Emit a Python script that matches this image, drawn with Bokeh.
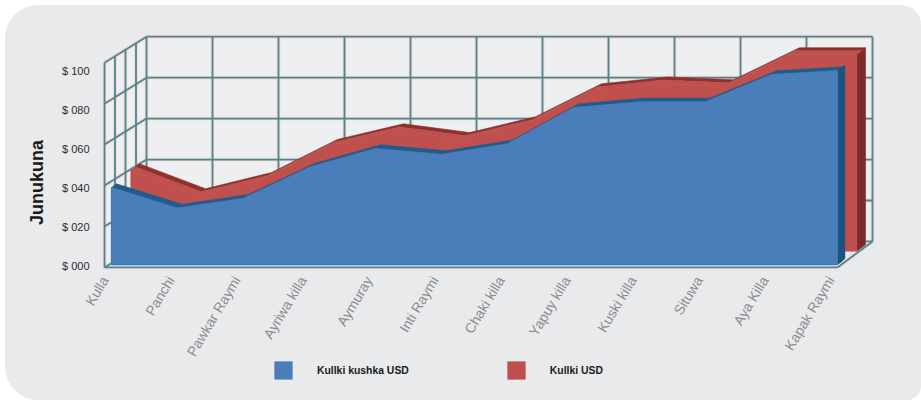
import math

from bokeh.embed import file_html
from bokeh.models import FixedTicker, Label, Legend, LegendItem, Range1d
from bokeh.plotting import figure
from bokeh.resources import INLINE

months = ["Kulla", "Panchi", "Pawkar Raymi", "Ayriwa killa", "Aymuray", "Inti Raymi",
          "Chaki killa", "Yapuy killa", "Kuski killa", "Situwa", "Aya Killa", "Kapak Raymi"]
kushka = [40, 29.5, 34.5, 50.5, 60, 57, 62.5, 81, 84, 84, 98, 100]
kullki = [41.5, 28.7, 37, 54, 62, 57.5, 65.6, 82.5, 86, 84.6, 101, 101]
y_ticks = [0, 20, 40, 60, 80, 100]
y_labels = ["$ 000", "$ 020", "$ 040", "$ 060", "$ 080", "$ 100"]
grid_levels = [-1, 20, 41, 62, 83, 104]

BLUE, BLUE_DARK, BLUE_SIDE, BLUE_EDGE = "#4a7ebb", "#1f5c8e", "#1b5480", "#2f7fc0"
RED, RED_DARK, RED_SIDE = "#c0504d", "#8f302d", "#7c2b29"
GRID, HALO, PANEL, WALL = "#4f8497", "#f2d8cf", "#e9eaec", "#eeeff1"

# pixel calibration of the front plane
PX_PER_X, PX_PER_Y = 66.0, 1.95
DX, DY = 35 / PX_PER_X, 26 / PX_PER_Y   # shift of one unit of depth, in data units
LEFT_WALL = -7 / PX_PER_X


def sx(i, d=0.0):
    return i + d * DX


def sy(v, d=0.0):
    return v + d * DY


p = figure(width=916, height=395, output_backend="svg", toolbar_location=None,
           x_range=Range1d((5 - 111) / PX_PER_X, (876 - 111) / PX_PER_X),
           y_range=Range1d((265 - 400) / PX_PER_Y, (265 - 30) / PX_PER_Y),
           min_border_left=0, min_border_right=45, min_border_top=25, min_border_bottom=0,
           background_fill_color=None, border_fill_color=None, outline_line_color=None,
           margin=(5, 0, 0, 5),
           styles={"background-color": PANEL, "border-radius": "33px 20px 14px 33px"})
p.grid.visible = False

n = len(months)
lo, hi = grid_levels[0], grid_levels[-1]

# walls
p.patch([sx(0, 1), sx(n - 1, 1), sx(n - 1, 1), sx(0, 1)],
        [sy(lo, 1), sy(lo, 1), sy(hi, 1), sy(hi, 1)], fill_color=WALL, line_color=None)
p.patch([LEFT_WALL, sx(0, 1), sx(0, 1), LEFT_WALL],
        [lo, sy(lo, 1), sy(hi, 1), hi], fill_color=WALL, line_color=None)

gx, gy = [], []
for v in grid_levels:
    gx.append([sx(0, 1), sx(n - 1, 1)])
    gy.append([sy(v, 1), sy(v, 1)])
    gx.append([LEFT_WALL, sx(0, 1)])
    gy.append([v, sy(v, 1)])
for i in range(n):
    gx.append([sx(i, 1), sx(i, 1)])
    gy.append([sy(lo, 1), sy(hi, 1)])
for k in range(4):
    f = k / 4
    xk = LEFT_WALL + f * (sx(0, 1) - LEFT_WALL)
    gx.append([xk, xk])
    gy.append([sy(lo, f), sy(hi, f)])
gx.append([LEFT_WALL, sx(n - 1)])
gy.append([lo, lo])
gx.append([sx(n - 1), sx(n - 1, 1)])
gy.append([lo, sy(lo, 1)])
p.multi_line(gx, gy, line_color=HALO, line_width=4, line_alpha=0.8)
p.multi_line(gx, gy, line_color=GRID, line_width=1.8)


def area(values, base, d0, dmid, d1, face, strip, side):
    idx = list(range(n))
    # right side
    p.patch([sx(n - 1, d0), sx(n - 1, d1), sx(n - 1, d1), sx(n - 1, d0)],
            [sy(base, d0), sy(base, d1), sy(values[-1], d1), sy(values[-1], d0)],
            fill_color=side, line_color=side, line_width=0.6)
    # top strip: its rear part is dark, its front part has the colour of the face
    p.patch([sx(i, dmid) for i in idx] + [sx(i, d1) for i in reversed(idx)],
            [sy(values[i], dmid) for i in idx] + [sy(values[i], d1) for i in reversed(idx)],
            fill_color=strip, line_color=strip, line_width=0.6)
    if dmid > d0:
        p.patch([sx(i, d0) for i in idx] + [sx(i, dmid) for i in reversed(idx)],
                [sy(values[i], d0) for i in idx] + [sy(values[i], dmid) for i in reversed(idx)],
                fill_color=face, line_color=face, line_width=0.6)
    # front
    return p.patch([sx(0, d0)] + [sx(i, d0) for i in idx] + [sx(n - 1, d0)],
                   [sy(base, d0)] + [sy(values[i], d0) for i in idx] + [sy(base, d0)],
                   fill_color=face, line_color=face, line_width=0.6)


red = area(kullki, 0, 0.55, 0.68, 0.8, RED, RED_DARK, RED_SIDE)
# the blue area has a thin dark top and a wider dark side
blue_base = 0.5
p.patch([sx(n - 1), sx(n - 1, 0.22), sx(n - 1, 0.22), sx(n - 1)],
        [blue_base, sy(blue_base, 0.22), sy(kushka[-1], 0.22), kushka[-1]],
        fill_color=BLUE_SIDE, line_color=None)
blue = area(kushka, blue_base, 0.0, 0.0, 0.14, BLUE, BLUE_DARK, BLUE_SIDE)
p.line([sx(0), sx(0), sx(n - 1)], [kushka[0], blue_base, blue_base],
       line_color=BLUE_EDGE, line_width=1.2)

# axes
tick_shift = 0.1
tick_pos = [round(i - tick_shift, 1) for i in range(n)]
xa = p.xaxis[0]
xa.fixed_location = (265 - 268) / PX_PER_Y
xa.ticker = FixedTicker(ticks=tick_pos)
xa.major_label_overrides = dict(zip(tick_pos, months))
xa.major_label_orientation = 1.03
xa.major_label_text_font = "Liberation Sans"
xa.major_label_text_font_size = "14px"
xa.major_label_text_color = "#8c8c8e"
xa.major_label_standoff = 3
xa.axis_line_color = None
xa.major_tick_line_color = None
xa.minor_tick_line_color = None

ya = p.yaxis[0]
ya.fixed_location = LEFT_WALL
ya.ticker = FixedTicker(ticks=y_ticks)
ya.major_label_overrides = dict(zip(y_ticks, y_labels))
ya.major_label_text_font = "Liberation Sans"
ya.major_label_text_font_size = "11px"
ya.major_label_text_color = "#2b2b2b"
ya.major_label_standoff = 9
ya.axis_line_color = None
ya.major_tick_line_color = None
ya.minor_tick_line_color = None

p.add_layout(Label(x=(36 - 111) / PX_PER_X, y=(265 - 182) / PX_PER_Y, text="Junukuna",
                   angle=math.pi / 2, text_align="center", text_baseline="middle",
                   text_font="Liberation Sans", text_font_style="bold", text_font_size="18px",
                   text_color="#1a1a1a"))

legend = Legend(items=[LegendItem(label="Kullki kushka USD", renderers=[blue]),
                       LegendItem(label="Kullki USD", renderers=[red])],
                orientation="horizontal", location=(267, 19),
                glyph_width=22, glyph_height=22, label_standoff=23, spacing=96,
                padding=0, margin=0, border_line_color=None, background_fill_alpha=0,
                label_text_font="Liberation Sans", label_text_font_style="bold",
                label_text_font_size="10.4px", label_text_color="#1a1a1a")
p.add_layout(legend, "center")

open("out.html", "w").write(file_html(p, INLINE))
